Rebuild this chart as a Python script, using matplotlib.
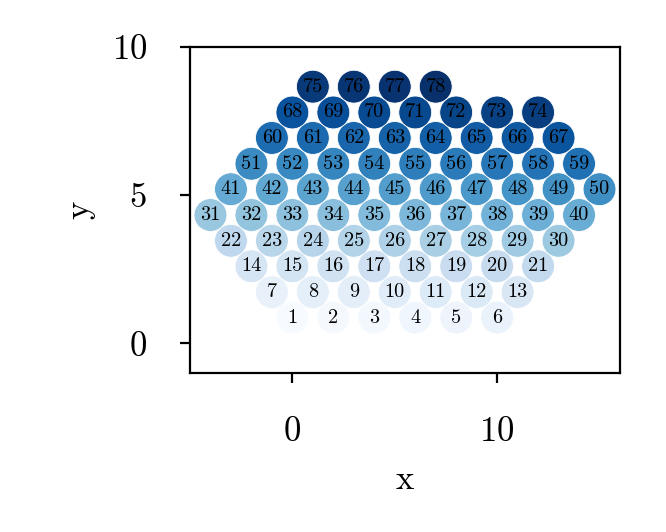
import matplotlib
matplotlib.use("Agg")
import matplotlib.pyplot as plt
import numpy as np

plt.rcParams['font.family'] = 'serif'
plt.rcParams['font.serif'] = ['cmr10']
plt.rcParams['mathtext.fontset'] = 'cm'
plt.rcParams['axes.formatter.use_mathtext'] = True

# hexagonal layout, one list per row (bottom to top)
row_x = [
    [0, 2, 4, 6, 8, 10],
    [-1, 1, 3, 5, 7, 9, 11],
    [-2, 0, 2, 4, 6, 8, 10, 12],
    [-3, -1, 1, 3, 5, 7, 9, 11, 13],
    [-4, -2, 0, 2, 4, 6, 8, 10, 12, 14],
    [-3, -1, 1, 3, 5, 7, 9, 11, 13, 15],
    [-2, 0, 2, 4, 6, 8, 10, 12, 14],
    [-1, 1, 3, 5, 7, 9, 11, 13],
    [0, 2, 4, 6, 8, 10, 12],
    [1, 3, 5, 7],
]
row_y = [0.87, 1.73, 2.60, 3.46, 4.33, 5.20, 6.06, 6.93, 7.79, 8.66]

xs = []
ys = []
for xr, yr in zip(row_x, row_y):
    xs += xr
    ys += [yr] * len(xr)
xs = np.array(xs)
ys = np.array(ys)
labels = np.arange(1, len(xs) + 1)

fig = plt.figure(figsize=(3.33, 2.66), dpi=200)
ax = fig.add_axes([0.2853, 0.2989, 0.6456, 0.6128])

ax.scatter(xs, ys, c=labels, cmap='Blues', s=140, edgecolors='white', linewidths=0.3, zorder=2)
for x, y, n in zip(xs, ys, labels):
    ax.text(x, y, str(n), ha='center', va='center', fontsize=7.3, zorder=3)

ax.set_xlim(-5, 16)
ax.set_ylim(-1, 10)
ax.set_xticks([0, 10])
ax.set_yticks([0, 5, 10])
ax.tick_params(labelsize=12.5, pad=12, length=3.5)
ax.set_xlabel('x', fontsize=12.5, labelpad=6)
ax.set_ylabel('y', fontsize=12.5, labelpad=6)

fig.savefig('out.png', dpi=200)
